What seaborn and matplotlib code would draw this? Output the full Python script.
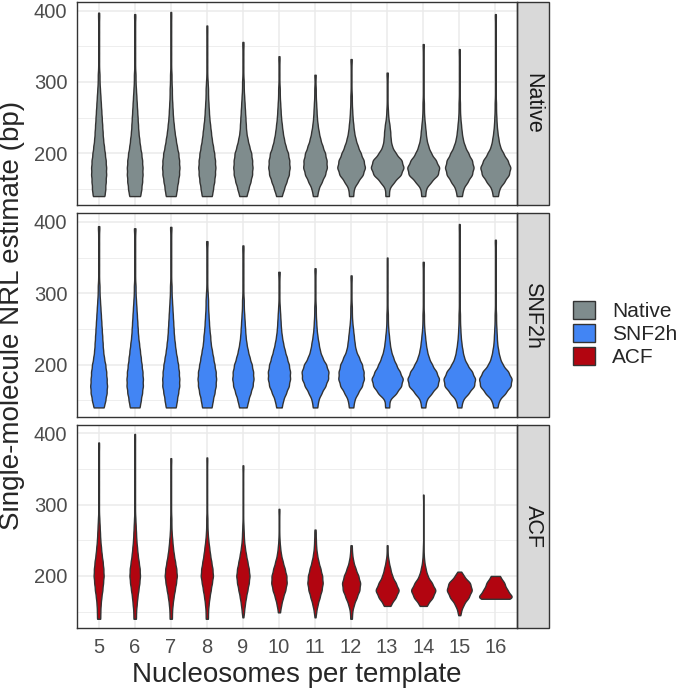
import numpy as np
import pandas as pd
import matplotlib
matplotlib.use('Agg')
import matplotlib.pyplot as plt
from matplotlib.patches import Patch, Rectangle
import seaborn as sns

nucleosomes = [5, 6, 7, 8, 9, 10, 11, 12, 13, 14, 15, 16]
conditions = ['Native', 'SNF2h', 'ACF']
colors = ['#7F8C8D', '#4285F4', '#B20510']

nrl_levels = [140, 150, 160, 170, 180, 190, 200, 210, 220, 230, 240, 250, 260,
              270, 280, 290, 300, 310, 320, 330, 340, 350, 360, 370, 380, 390, 400]

native_counts = [
    [13, 15, 16, 17, 17, 16, 14, 12, 10, 9, 8, 7, 6, 5, 4, 3, 2, 2, 1, 1, 1, 1, 1, 1, 1, 1],
    [13, 16, 18, 19, 19, 18, 16, 13, 11, 9, 8, 7, 6, 5, 4, 3, 2, 2, 1, 1, 1, 1, 1, 1, 1, 1],
    [13, 16, 19, 22, 23, 22, 20, 16, 13, 10, 8, 6, 5, 4, 3, 3, 2, 2, 1, 1, 1, 1, 1, 1, 1, 1],
    [12, 15, 18, 20, 21, 20, 18, 15, 12, 10, 8, 6, 5, 4, 3, 3, 2, 1, 1, 1, 1, 1, 1, 1],
    [8, 13, 18, 22, 23, 22, 20, 15, 11, 8, 7, 6, 5, 4, 3, 2, 2, 1, 1, 1, 1, 1],
    [6, 12, 18, 24, 26, 25, 22, 16, 12, 9, 7, 5, 4, 3, 2, 2, 1, 1, 1, 1],
    [5, 9, 18, 27, 32, 31, 27, 20, 14, 10, 7, 5, 4, 3, 2, 2, 1, 1],
    [5, 7, 18, 32, 38, 34, 26, 18, 12, 8, 6, 4, 3, 2, 2, 1, 1, 1, 1, 1],
    [4, 5, 18, 36, 43, 38, 22, 12, 9, 8, 6, 3, 2, 1, 1, 1, 1, 1],
    [5, 7, 22, 42, 46, 36, 22, 14, 9, 7, 5, 3, 2, 2, 1, 1, 1, 1, 1, 1, 1, 1],
    [7, 11, 24, 37, 42, 37, 26, 16, 10, 7, 5, 3, 2, 2, 1, 1, 1, 1, 1, 1, 1],
    [7, 11, 26, 40, 45, 36, 23, 13, 9, 6, 4, 3, 2, 2, 1, 1, 1, 1, 1, 1, 1, 1, 1, 1, 1, 1],
]
native_min = [140, 140, 140, 140, 140, 140, 140, 140, 140, 140, 140, 140]
native_max = [397, 395, 398, 379, 356, 336, 310, 332, 313, 353, 346, 395]

snf2h_counts = [
    [11, 15, 18, 19, 18, 17, 15, 12, 10, 9, 8, 7, 6, 5, 4, 3, 2, 2, 1, 1, 1, 1, 1, 1, 1, 1],
    [11, 14, 17, 19, 19, 18, 16, 14, 12, 10, 8, 7, 6, 5, 4, 3, 2, 2, 1, 1, 1, 1, 1, 1, 1, 1],
    [12, 15, 18, 21, 21, 20, 18, 15, 12, 10, 8, 7, 6, 5, 4, 3, 2, 2, 1, 1, 1, 1, 1, 1, 1, 1],
    [11, 14, 18, 21, 22, 21, 18, 15, 12, 9, 8, 6, 5, 4, 3, 3, 2, 1, 1, 1, 1, 1, 1, 1],
    [8, 12, 17, 22, 24, 23, 20, 15, 11, 8, 6, 5, 4, 3, 2, 2, 1, 1, 1, 1, 1, 1, 1],
    [6, 10, 17, 24, 27, 27, 24, 19, 14, 10, 7, 5, 4, 3, 2, 1, 1, 1, 1, 1],
    [5, 8, 16, 26, 33, 34, 28, 18, 12, 9, 6, 4, 3, 2, 2, 1, 1, 1, 1, 1],
    [5, 8, 17, 28, 33, 32, 28, 20, 12, 9, 7, 5, 3, 2, 2, 1, 1, 1, 1],
    [5, 6, 25, 38, 43, 34, 24, 16, 10, 7, 5, 3, 2, 2, 1, 1, 1, 1, 1, 1, 1],
    [5, 8, 23, 40, 44, 36, 24, 15, 10, 7, 5, 3, 2, 2, 1, 1, 1, 1, 1, 1, 1],
    [5, 9, 26, 42, 45, 36, 22, 13, 9, 6, 4, 3, 2, 2, 1, 1, 1, 1, 1, 1, 1, 1, 1, 1, 1, 1],
    [5, 10, 28, 43, 46, 36, 20, 12, 8, 5, 4, 3, 2, 2, 1, 1, 1, 1, 1, 1, 1, 1, 1, 1],
]
snf2h_min = [140, 140, 140, 140, 140, 140, 140, 140, 140, 140, 140, 140]
snf2h_max = [394, 391, 393, 373, 367, 330, 335, 325, 350, 344, 397, 375]

acf_counts = [
    [4, 5, 6, 8, 11, 13, 15, 14, 12, 9, 7, 5, 4, 3, 2, 1, 1, 1, 1, 1, 1, 1, 1, 1, 1],
    [3, 4, 6, 8, 11, 14, 16, 15, 12, 9, 7, 5, 4, 3, 2, 1, 1, 1, 1, 1, 1, 1, 1, 1, 1, 1],
    [3, 4, 6, 9, 13, 17, 20, 18, 14, 10, 7, 5, 3, 2, 2, 1, 1, 1, 1, 1, 1, 1, 1],
    [3, 4, 6, 9, 13, 17, 21, 19, 15, 11, 8, 5, 3, 2, 2, 1, 1, 1, 1, 1, 1, 1, 1],
    [0, 4, 7, 11, 16, 21, 24, 21, 16, 11, 7, 4, 3, 2, 1, 1, 1, 1, 1, 1, 1, 1],
    [0, 3, 8, 14, 22, 27, 26, 20, 13, 7, 4, 2, 1, 1, 1, 1],
    [0, 4, 9, 16, 23, 27, 25, 19, 12, 7, 4, 3, 2],
    [2, 4, 10, 20, 30, 33, 26, 16, 8, 4, 2],
    [0, 0, 14, 33, 46, 33, 19, 12, 6, 2, 1],
    [0, 0, 15, 36, 48, 33, 16, 9, 4, 2, 1],
    [0, 5, 14, 31, 42, 36, 14],
    [0, 0, 0, 52, 34, 26, 12],
]
acf_min = [140, 140, 140, 140, 142, 149, 142, 140, 158, 158, 145, 168]
acf_max = [387, 399, 365, 366, 355, 294, 265, 243, 243, 314, 206, 200]


def long_table(cond, counts, lows, highs):
    frames = []
    for n, c, lo, hi in zip(nucleosomes, counts, lows, highs):
        vals = np.repeat(nrl_levels[:len(c)], c)
        vals = np.concatenate([[lo], vals, [hi]])
        frames.append(pd.DataFrame({'Condition': cond, 'Nucleosomes': n, 'NRL': vals}))
    return pd.concat(frames)


df = pd.concat([
    long_table('Native', native_counts, native_min, native_max),
    long_table('SNF2h', snf2h_counts, snf2h_min, snf2h_max),
    long_table('ACF', acf_counts, acf_min, acf_max),
], ignore_index=True)


def fixed_bw(kde):
    # same 5 bp kernel for every violin
    return 5.0 / kde.dataset.std(ddof=1)


sns.set_style('white')
plt.rcParams['font.family'] = ['Liberation Sans', 'DejaVu Sans']

fig, axes = plt.subplots(3, 1, figsize=(6.8, 6.88), dpi=100, sharex=True, sharey=True)
fig.subplots_adjust(left=77/680, right=517/680, top=1-2/688, bottom=1-628/688, hspace=8/203)

lo, hi = df['NRL'].min(), df['NRL'].max()
pad = 0.05 * (hi - lo)

for i, (ax, cond, col) in enumerate(zip(axes, conditions, colors)):
    sns.violinplot(data=df[df['Condition'] == cond], x='Nucleosomes', y='NRL',
                   order=nucleosomes, color=col, saturation=1, width=0.9, cut=0,
                   inner=None, density_norm='area', bw_method=fixed_bw, gridsize=200,
                   linewidth=1.0, linecolor='#333333', ax=ax)
    ax.set_xlim(-0.6, 11.6)
    ax.set_ylim(lo - pad, hi + pad)
    ax.set_yticks([200, 300, 400])
    ax.set_yticks([150, 250, 350], minor=True)
    ax.grid(True, which='major', color='#EBEBEB', lw=1.1)
    ax.grid(True, which='minor', axis='y', color='#EBEBEB', lw=0.6)
    ax.set_axisbelow(True)
    for s in ax.spines.values():
        s.set_visible(True)
        s.set_color('#333333')
        s.set_linewidth(1.0)
    ax.tick_params(which='major', length=4, width=1.0, color='#333333',
                   labelsize=14.5, labelcolor='#4D4D4D', pad=3)
    ax.tick_params(which='minor', length=0)
    if i < 2:
        ax.tick_params(axis='x', length=0, labelbottom=False)
    ax.set_xlabel('')
    ax.set_ylabel('')

    # facet strip on the right
    strip_w = 32 / 440
    ax.add_patch(Rectangle((1, 0), strip_w, 1, transform=ax.transAxes, facecolor='#D9D9D9',
                           edgecolor='#333333', lw=1.0, clip_on=False))
    ax.text(1 + strip_w / 2, 0.5, cond, transform=ax.transAxes, rotation=-90,
            ha='center', va='center', fontsize=15.5, color='#1A1A1A')

fig.text(297/680, 6.5/688, 'Nucleosomes per template', ha='center', va='baseline', fontsize=20)
fig.text(12/680, 1 - 315/688, 'Single-molecule NRL estimate (bp)', rotation=90,
         ha='center', va='center', fontsize=20)

handles = [Patch(facecolor=c, edgecolor='#333333', lw=1.0, label=l) for c, l in zip(colors, conditions)]
fig.legend(handles=handles, loc='center left', bbox_to_anchor=(573/680, 1 - 334/688),
           frameon=False, fontsize=15, handlelength=1.06, handleheight=1.0,
           labelspacing=0.12, handletextpad=0.8, borderpad=0, borderaxespad=0)

fig.savefig('out.png', dpi=100)
